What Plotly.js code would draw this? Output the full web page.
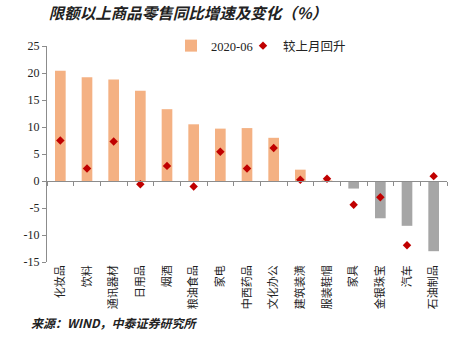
<!DOCTYPE html>
<html>
<head>
<meta charset="utf-8">
<script src="https://cdn.plot.ly/plotly-3.0.1.min.js"></script>
<style>html,body{margin:0;padding:0;background:#fff}#chart{width:464px;height:363px}</style>
</head>
<body>
<div id="chart"></div>
<script>
var categories = ["化妆品","饮料","通讯器材","日用品","烟酒","粮油食品","家电","中西药品","文化办公","建筑装潢","服装鞋帽","家具","金银珠宝","汽车","石油制品"];
var growth2020_06 = [20.4, 19.2, 18.8, 16.7, 13.3, 10.5, 9.7, 9.8, 8.0, 2.1, 0.1, -1.4, -6.9, -8.3, -13.0];
var changeVsLastMonth = [7.5, 2.3, 7.3, -0.6, 2.8, -1.0, 5.4, 2.3, 6.1, 0.25, 0.4, -4.4, -3.0, -11.9, 0.9];
var yTickVals = [-15, -10, -5, 0, 5, 10, 15, 20, 25];

var posColor = "#F4B183", negColor = "#A6A6A6";
var barColors = growth2020_06.map(function(v){ return v >= 0 ? posColor : negColor; });

var yMin = -15, yMax = 25;
var zeroPos = (0 - yMin) / (yMax - yMin);

var traces = [
  {
    type: "bar", name: "2020-06", x: categories, y: growth2020_06,
    xaxis: "x", yaxis: "y", legend: "legend",
    marker: {color: barColors}, width: 0.4
  },
  {
    type: "scatter", mode: "markers", name: "较上月回升", x: categories, y: changeVsLastMonth,
    xaxis: "x2", yaxis: "y", legend: "legend2",
    marker: {symbol: "diamond", size: 6.5, color: "#C00000"}
  }
];

var serif = "Liberation Serif, Times New Roman, Noto Sans CJK SC, serif";
var legendFont = {family: serif, size: 12.5, color: "#222"};
var layout = {
  width: 464, height: 363,
  margin: {l: 47, r: 17, t: 46, b: 101},
  paper_bgcolor: "#fff", plot_bgcolor: "#fff",
  showlegend: true,
  legend: {orientation: "h", x: 0.31, xanchor: "left", y: 1.0, yanchor: "middle",
           font: legendFont, itemwidth: 30, bgcolor: "rgba(0,0,0,0)"},
  legend2: {orientation: "h", x: 0.49, xanchor: "left", y: 1.0, yanchor: "middle",
           font: legendFont, itemwidth: 30, bgcolor: "rgba(0,0,0,0)"},
  title: {text: "<b><i>限额以上商品零售同比增速及变化（%）</i></b>", x: 0.105, xanchor: "left",
          xref: "container", y: 0.962, yref: "container", yanchor: "middle",
          font: {family: "Noto Sans CJK SC", size: 15.5, color: "#222"}},
  xaxis: {
    type: "category", range: [-0.5, 14.5], anchor: "free", position: zeroPos,
    showline: true, linecolor: "#8c8c8c", linewidth: 1,
    ticks: "outside", ticklen: 4, tickcolor: "#8c8c8c", tickson: "boundaries",
    showticklabels: false, showgrid: false, zeroline: false, fixedrange: true
  },
  xaxis2: {
    type: "category", range: [-0.5, 14.5], overlaying: "x", anchor: "y", side: "bottom",
    showline: false, ticks: "", showticklabels: true, tickangle: -90,
    tickfont: {family: "Noto Sans CJK SC", size: 11, color: "#222"},
    showgrid: false, zeroline: false
  },
  yaxis: {
    range: [yMin, yMax], tickvals: yTickVals, ticktext: yTickVals.map(String),
    showline: true, linecolor: "#8c8c8c", linewidth: 1,
    ticks: "outside", ticklen: 4, tickcolor: "#8c8c8c",
    tickfont: {family: serif, size: 12, color: "#222"},
    showgrid: false, zeroline: false
  },
  annotations: [{
    text: "<b><i>来源：WIND，中泰证券研究所</i></b>", xref: "paper", yref: "paper",
    x: -0.045, xanchor: "left", y: -0.278, yanchor: "middle", showarrow: false,
    font: {family: "Noto Sans CJK SC", size: 12, color: "#222"}
  }]
};

Plotly.newPlot("chart", traces, layout, {displayModeBar: false, staticPlot: true});
</script>
</body>
</html>
